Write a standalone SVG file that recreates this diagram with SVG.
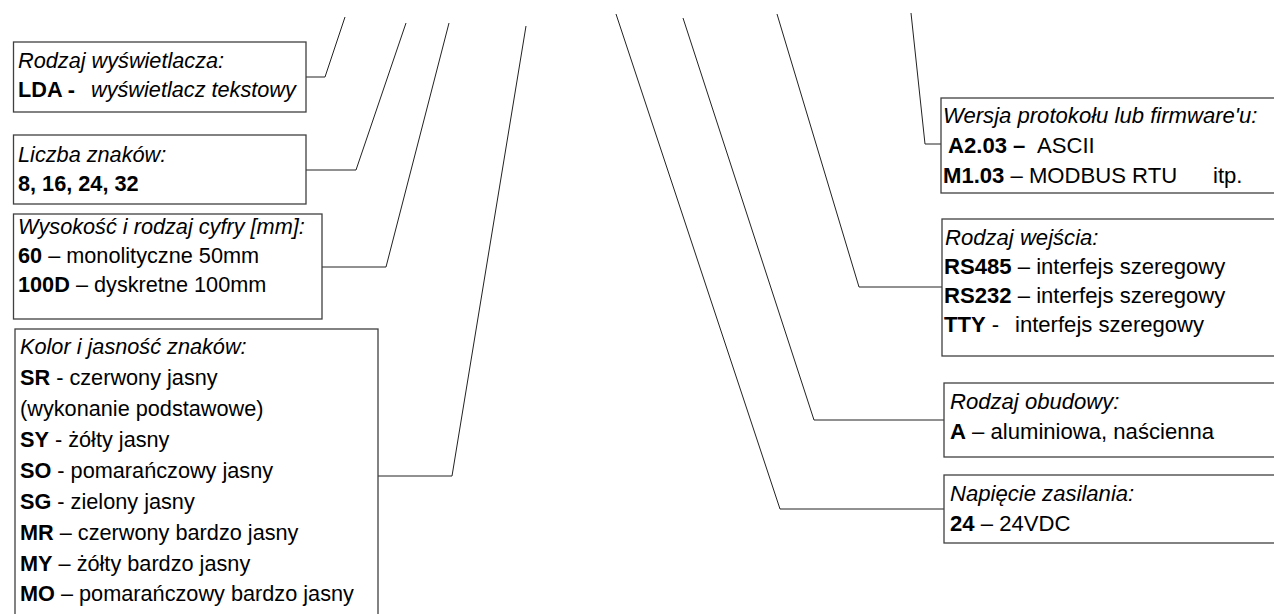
<svg xmlns="http://www.w3.org/2000/svg" width="1274" height="614" viewBox="0 0 1274 614">
<style>
text{font-family:"Liberation Sans",Arial,sans-serif;font-size:21.7px;fill:#000}
.r text{font-size:22.1px}
.i{font-style:italic}
.b{font-weight:bold}
.box{fill:#fff;stroke:#404040;stroke-width:1.3}
.con{fill:none;stroke:#222;stroke-width:1}
</style>
<rect width="1274" height="614" fill="#fff"/>
<g id="connectors">
<polyline class="con" points="306,77 325,77 345,17"/>
<polyline class="con" points="306,170 356,170 406,23"/>
<polyline class="con" points="322,267 386,267 449,23"/>
<polyline class="con" points="378,476 452,476 526,26"/>
<polyline class="con" points="941,144 925,144 911,13"/>
<polyline class="con" points="942,287 859,287 777,14"/>
<polyline class="con" points="944,420 814,420 683,18"/>
<polyline class="con" points="944,509 780,509 616,14"/>
</g>
<g id="wyswietlacz">
<rect class="box" x="13.5" y="42" width="292.5" height="70"/>
<text x="18" y="68" class="i">Rodzaj wyświetlacza:</text>
<text x="18" y="97"><tspan class="b">LDA -</tspan><tspan class="i" x="91">wyświetlacz tekstowy</tspan></text>
</g>
<g id="liczba">
<rect class="box" x="13.5" y="135" width="292.5" height="69"/>
<text x="18" y="162" class="i">Liczba znaków:</text>
<text x="18" y="191" class="b">8, 16, 24, 32</text>
</g>
<g id="wysokosc">
<rect class="box" x="13.5" y="214" width="308.5" height="105"/>
<text x="18" y="234" class="i">Wysokość i rodzaj cyfry [mm]:</text>
<text x="18" y="263"><tspan class="b">60</tspan> – monolityczne 50mm</text>
<text x="18" y="292"><tspan class="b">100D</tspan> – dyskretne 100mm</text>
</g>
<g id="kolor">
<rect class="box" x="15" y="329" width="363" height="300"/>
<text x="20" y="354" class="i">Kolor i jasność znaków:</text>
<text x="20" y="385"><tspan class="b">SR</tspan> - czerwony jasny</text>
<text x="20" y="416">(wykonanie podstawowe)</text>
<text x="20" y="447"><tspan class="b">SY</tspan> - żółty jasny</text>
<text x="20" y="478"><tspan class="b">SO</tspan> - pomarańczowy jasny</text>
<text x="20" y="509"><tspan class="b">SG</tspan> - zielony jasny</text>
<text x="20" y="540"><tspan class="b">MR</tspan> – czerwony bardzo jasny</text>
<text x="20" y="571"><tspan class="b">MY</tspan> – żółty bardzo jasny</text>
<text x="20" y="601"><tspan class="b">MO</tspan> – pomarańczowy bardzo jasny</text>
</g>
<g id="wersja" class="r">
<rect class="box" x="941" y="98" width="350" height="95"/>
<text x="943" y="123" class="i">Wersja protokołu lub firmware'u:</text>
<text x="948" y="153"><tspan class="b">A2.03 –</tspan><tspan x="1037">ASCII</tspan></text>
<text x="943" y="183"><tspan class="b">M1.03</tspan> – MODBUS RTU<tspan x="1213">itp.</tspan></text>
</g>
<g id="wejscie" class="r">
<rect class="box" x="942" y="219" width="350" height="137"/>
<text x="945" y="245" class="i">Rodzaj wejścia:</text>
<text x="944" y="274"><tspan class="b">RS485</tspan> – interfejs szeregowy</text>
<text x="944" y="303"><tspan class="b">RS232</tspan> – interfejs szeregowy</text>
<text x="944" y="332"><tspan class="b">TTY</tspan> -<tspan x="1015">interfejs szeregowy</tspan></text>
</g>
<g id="obudowa" class="r">
<rect class="box" x="944" y="383" width="350" height="74"/>
<text x="950" y="409" class="i">Rodzaj obudowy:</text>
<text x="950" y="439"><tspan class="b">A</tspan> – aluminiowa, naścienna</text>
</g>
<g id="zasilanie" class="r">
<rect class="box" x="944" y="475" width="350" height="68"/>
<text x="950" y="501" class="i">Napięcie zasilania:</text>
<text x="950" y="531"><tspan class="b">24</tspan> – 24VDC</text>
</g>
</svg>
